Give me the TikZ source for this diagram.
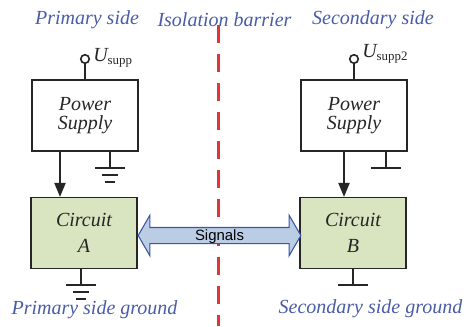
\documentclass[tikz,border=0pt]{standalone}
\usepackage{fontspec}
\setmainfont{Liberation Serif}
\newfontfamily\signalfont{Liberation Sans}
\usetikzlibrary{arrows.meta,shapes.arrows}
\definecolor{sidecol}{HTML}{4A5CA8}
\definecolor{barriercol}{HTML}{E0353A}
\definecolor{circuitcol}{HTML}{D9E4C0}
\definecolor{signalcol}{HTML}{BACDE4}
\definecolor{signaledge}{HTML}{3C55A5}
\tikzset{
	sidetext/.style={text=sidecol,font=\fontsize{15}{17}\selectfont\itshape,inner sep=0pt},
	block/.style={draw=black!85,line width=1.2pt,minimum width=79.5pt,minimum height=53pt,
		align=center,inner sep=0pt,text=black!85,font=\fontsize{15}{14.25}\selectfont\itshape},
	powerblock/.style={block,fill=white},
	circuitblock/.style={block,fill=circuitcol},
	wire/.style={draw=black!85,line width=1.2pt},
	feed/.style={wire,-{Triangle[length=10.5pt,width=8.4pt]}},
	terminal/.style={circle,draw=black!85,line width=1.2pt,fill=white,minimum size=6.4pt,inner sep=0pt},
	supplabel/.style={anchor=west,inner sep=0pt,text=black!85},
	signalarrow/.style={shape=double arrow,draw=signaledge,fill=signalcol,line width=.8pt,
		double arrow head extend=7.5pt,double arrow tip angle=120,inner xsep=0pt,inner ysep=0pt,
		minimum height=122pt,minimum width=30.5pt,text height=8pt,text depth=1pt,
		font=\signalfont\fontsize{11.2}{13}\selectfont}
}
\newcommand{\supply}[2]{{\fontsize{15}{17}\selectfont\itshape #1}{\fontsize{9.7}{11}\selectfont\raisebox{-2.6pt}{#2}}}
\begin{document}
\begin{tikzpicture}[x=0.75pt,y=-0.75pt]
	\useasboundingbox (0,0) rectangle (467,326);
	% side captions
	\node[sidetext] (tprimary) at (87,20) {Primary side};
	\node[sidetext] (tbarrier) at (224.5,20) {Isolation barrier};
	\node[sidetext] (tsecondary) at (373,20) {Secondary side};
	\node[sidetext] (tgndA) at (94.5,310) {Primary side ground};
	\node[sidetext] (tgndB) at (370.5,309) {Secondary side ground};
	% barrier
	\coordinate (btop) at (218.5,25);
	\coordinate (bbot) at (218.5,326);
	\draw[barriercol,line width=1.6pt,dash pattern=on 13.5pt off 8.25pt] (btop) -- (bbot);
	% blocks
	\node[powerblock] (powerA) at (85,115.5) {Power\\Supply};
	\node[powerblock] (powerB) at (354,115.5) {Power\\Supply};
	\node[circuitblock] (circA) at (84,233) {Circuit\\[5pt]A};
	\node[circuitblock] (circB) at (353,233) {Circuit\\[5pt]B};
	% supply terminals
	\node[terminal] (termA) at (85,59) {};
	\node[terminal] (termB) at (354,59) {};
	\draw[wire] (termA) -- (powerA);
	\draw[wire] (termB) -- (powerB);
	\node[supplabel] (uA) at (93,58) {\supply{U}{supp}};
	\node[supplabel] (uB) at (362,54) {\supply{U}{supp2}};
	% power feeds
	\coordinate (feedA) at (60,151);
	\coordinate (feedB) at (344,151);
	\draw[feed] (feedA) -- (feedA |- circA.north);
	\draw[feed] (feedB) -- (feedB |- circB.north);
	% grounds
	\coordinate (gndPA) at (110,168);
	\coordinate (gndCA) at (81,285);
	\coordinate (gndPB) at (386,168);
	\coordinate (gndCB) at (353,285);
	\draw[wire] (powerA.south -| gndPA) -- (gndPA);
	\draw[wire] (circA.south -| gndCA) -- (gndCA);
	\draw[wire] (powerB.south -| gndPB) -- (gndPB);
	\draw[wire] (circB.south -| gndCB) -- (gndCB);
	\foreach \G in {gndPA,gndCA,gndPB,gndCB}
	{\draw[wire] ([xshift=-11pt]\G) -- ([xshift=11pt]\G);}
	\foreach \G in {gndPA,gndCA}
	{\draw[wire] ([xshift=-6pt,yshift=-5.25pt]\G) -- ([xshift=6pt,yshift=-5.25pt]\G);
	\draw[wire] ([xshift=-3.5pt,yshift=-10.5pt]\G) -- ([xshift=3.5pt,yshift=-10.5pt]\G);}
	% signals
	\node[signalarrow] (signals) at (219.5,235.5) {Signals};
\end{tikzpicture}
\end{document}
